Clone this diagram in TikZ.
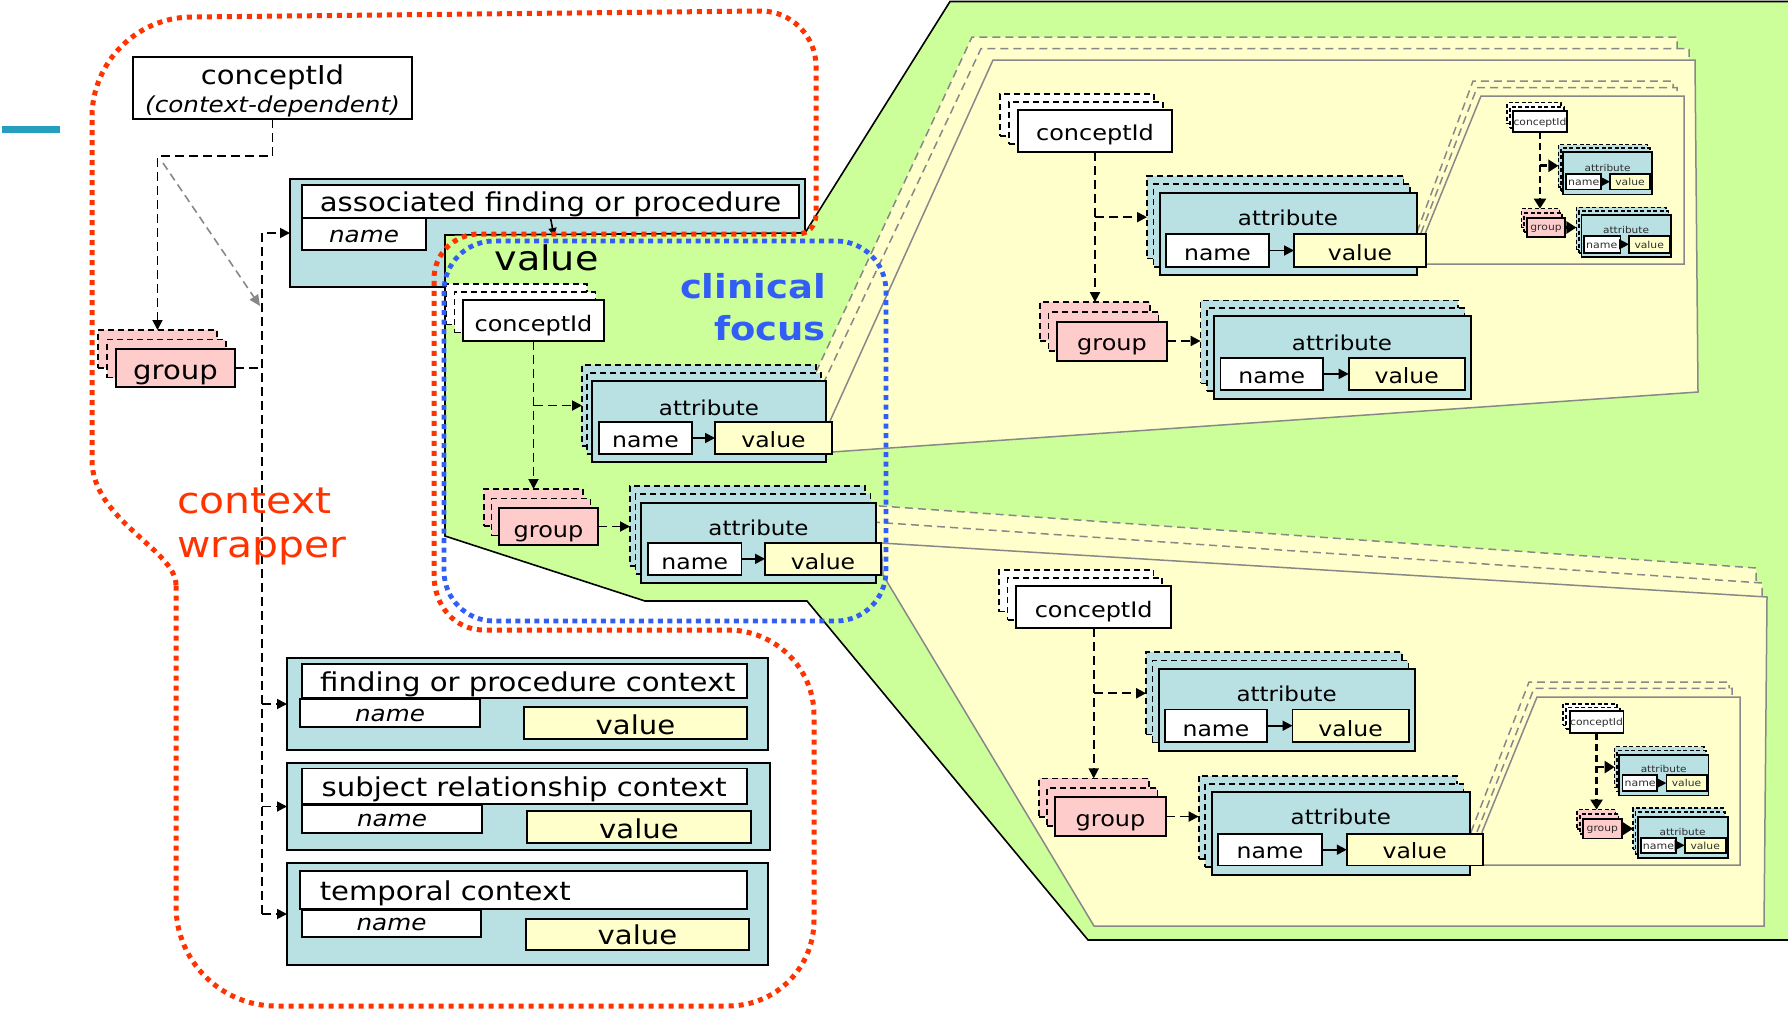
\documentclass[tikz,border=0pt]{standalone}
\usepackage{fontspec}
\setmainfont{DejaVu Sans}[FakeStretch=1.12]
\usetikzlibrary{arrows.meta,calc}
\definecolor{tealc}{RGB}{185,224,227}
\definecolor{yelc}{RGB}{255,255,204}
\definecolor{grnc}{RGB}{204,255,153}
\definecolor{pinkc}{RGB}{255,204,204}
\definecolor{redc}{RGB}{255,51,0}
\definecolor{bluec}{RGB}{51,94,245}
\definecolor{barc}{RGB}{36,160,190}
\definecolor{panelc}{RGB}{136,136,136}
\definecolor{smalltxt}{RGB}{45,45,45}
\newcommand\myfs[1]{\fontsize{#1pt}{#1pt}\selectfont}
\newcommand\mybox[6][]{\node[inner sep=0pt, outer sep=0pt, anchor=north west, minimum width={((#5)-(#3))*1pt}, minimum height={((#6)-(#4))*1pt}, #1] (#2) at ({#3},{#4}) {};}
\newcommand\mytext[5][]{\node[tx, #1] (#2) at ({#3},{#4}) {#5};}
\newcommand\mystack[9]{%
 \mybox[fill=#8, lay#9]{#1-b}{#2-2*(#6)}{#3-2*(#7)}{#4-2*(#6)}{#5-2*(#7)}%
 \mybox[fill=#8, lay#9]{#1-m}{#2-(#6)}{#3-(#7)}{#4-(#6)}{#5-(#7)}%
 \mybox[fill=#8, fr#9]{#1}{#2}{#3}{#4}{#5}}
\tikzset{
 frL/.style={draw=black, line width=2pt},
 frM/.style={draw=black, line width=1.6pt},
 layL/.style={draw=black, line width=1.6pt, dash pattern=on 6pt off 4pt},
 frS/.style={draw=black, line width=1.8pt},
 layS/.style={draw=black, line width=1.7pt, dash pattern=on 4pt off 2.5pt},
 connN/.style={draw=black, line width=1.8pt, dash pattern=on 9pt off 5pt},
 conn/.style={connN, -{Triangle[length=10pt,width=10pt]}},
 connS/.style={draw=black, line width=2.8pt, dash pattern=on 7pt off 4pt, -{Triangle[length=10pt,width=12pt]}},
 nv/.style={draw=black, line width=1.8pt, -{Triangle[length=10pt,width=10pt]}},
 nvS/.style={draw=black, line width=1.6pt, -{Triangle[length=10pt,width=10pt]}},
 grayarr/.style={draw=panelc, line width=1.6pt, dash pattern=on 8pt off 5pt, -{Triangle[length=11pt,width=10pt]}},
 panel/.style={fill=yelc, draw=panelc, line width=1.5pt},
 panelL/.style={fill=yelc, draw=panelc, line width=1.5pt, dash pattern=on 8pt off 5pt},
 redot/.style={draw=redc, line width=5pt, dash pattern=on 5pt off 5pt},
 bluedot/.style={draw=bluec, line width=4.8pt, dash pattern=on 5pt off 4.5pt},
 tx/.style={inner sep=0pt, anchor=base},
 sm/.style={text=smalltxt},
}
\begin{document}
\begin{tikzpicture}[x=1pt,y=-1pt]
\useasboundingbox (0,0) rectangle (1788,1009);
% teal bar
\fill[barc] (2,126) rectangle (60,133);
% associated finding box
\mybox[fill=tealc, frL]{assoc}{290}{179}{805}{287}
\mybox[fill=white, frM]{assoctitle}{302}{185}{799}{218}
\mybox[fill=white, frM]{assocname}{302}{218}{426}{250}
\mytext[font={\myfs{26}}]{assoct}{550.5}{211}{associated finding or procedure}
\mytext[font={\myfs{22}\itshape}]{assocn}{364}{242}{name}
% green value region
\draw[fill=grnc, draw=black, line width=1.6pt] (445,235) -- (805,233) -- (950,1.5) -- (1792,1.5) -- (1792,940) -- (1088,940) -- (807,601) -- (645,601) -- (445,536) -- cycle;
% upper level-2 panel
\draw[panelL] (816,372) -- (972,37) -- (1677,37) -- (1677,370) -- (822,420) -- cycle;
\draw[panelL] (823,384) -- (981,48.6) -- (1689,48.6) -- (1689,380) -- (825,430) -- cycle;
\draw[panel] (830,421) -- (993,60) -- (1695,60) -- (1698,392) -- (832,452) -- cycle;
% lower level-2 panel
\draw[panelL] (866,505) -- (1756,568) -- (1756,890) -- (1100,890) -- (905,590) -- (872,565) -- cycle;
\draw[panelL] (872,522) -- (1762,583) -- (1762,900) -- (1100,900) -- (905,592) -- (876,570) -- cycle;
\draw[panel] (881,543) -- (1767,597) -- (1764,926) -- (1094,926) -- (883,575) -- cycle;
% level-3 panels
\draw[panelL] (1417,232) -- (1473,81) -- (1673,81) -- (1673,250) -- (1420,258) -- cycle;
\draw[panelL] (1421,233) -- (1477,87.6) -- (1677,87.6) -- (1677,250) -- (1423,258) -- cycle;
\draw[panel] (1425,234) -- (1481,96) -- (1684,96) -- (1684,264) -- (1426,264) -- cycle;
\draw[panelL] (1471,832) -- (1529,682) -- (1729,682) -- (1729,850) -- (1478,858) -- cycle;
\draw[panelL] (1477,832) -- (1534,688.4) -- (1732,688.4) -- (1732,850) -- (1480,858) -- cycle;
\draw[panel] (1482,832) -- (1537,697) -- (1740,697) -- (1740,865) -- (1483,865) -- cycle;
% ---------- level 1 (clinical focus) ----------
\mystack{c1}{463}{300}{604}{340.6}{8.5}{8}{white}{L}
\mytext[font={\myfs{21.4}}]{c1t}{533.5}{331}{conceptId}
\mystack{g1}{499}{508}{598}{545}{7.5}{9.5}{pinkc}{L}
\mytext[font={\myfs{21.4}}]{g1t}{548.5}{537.7}{group}
\mystack{a1}{592}{381}{826}{462}{5}{8}{tealc}{L}
\mytext[font={\myfs{20.5}}]{a1t}{709}{415}{attribute}
\mybox[fill=white, frM]{a1n}{599}{422}{692}{454}
\mybox[fill=yelc, frM]{a1v}{715}{422}{832}{454}
\mytext[font={\myfs{21}}]{a1nt}{645.5}{447.7}{name}
\mytext[font={\myfs{21}}]{a1vt}{773.5}{447.7}{value}
\draw[nv] (a1n.east) -- (a1v.west);
\mystack{a2}{641}{502.5}{876}{582.5}{5.5}{8.3}{tealc}{L}
\mytext[font={\myfs{20.5}}]{a2t}{758.5}{535}{attribute}
\mybox[fill=white, frM]{a2n}{648}{542.7}{741.6}{575}
\mybox[fill=yelc, frM]{a2v}{765}{542.7}{881}{575}
\mytext[font={\myfs{21}}]{a2nt}{694.8}{569}{name}
\mytext[font={\myfs{21}}]{a2vt}{823}{569}{value}
\draw[nv] (a2n.east) -- (a2v.west);
\draw[conn] (c1.south) -- (c1.south |- g1-b.north);
\draw[conn] (c1.south |- a1-b.west) -- (a1-b.west);
\draw[conn] (g1.east) -- (g1.east -| a2-b.west);
% ---------- level 2 upper ----------
\mystack{c2}{1018}{110}{1172}{152}{9}{8}{white}{L}
\mytext[font={\myfs{21.4}}]{c2t}{1095}{140.8}{conceptId}
\mystack{g2}{1057}{321.5}{1167}{360.5}{8.5}{9.7}{pinkc}{L}
\mytext[font={\myfs{21.4}}]{g2t}{1112}{350}{group}
\mystack{a3}{1160}{192.5}{1416.5}{275}{6.5}{8.3}{tealc}{L}
\mytext[font={\myfs{20.5}}]{a3t}{1288}{225.8}{attribute}
\mybox[fill=white, frM]{a3n}{1166}{234}{1269}{267}
\mybox[fill=yelc, frM]{a3v}{1294}{234}{1426}{267}
\mytext[font={\myfs{21}}]{a3nt}{1217.5}{260}{name}
\mytext[font={\myfs{21}}]{a3vt}{1360}{260}{value}
\draw[nv] (a3n.east) -- (a3v.west);
\mystack{a4}{1213.6}{315.7}{1471}{398.8}{6.5}{7.7}{tealc}{L}
\mytext[font={\myfs{20.5}}]{a4t}{1342}{350}{attribute}
\mybox[fill=white, frM]{a4n}{1220.5}{357.8}{1323}{390}
\mybox[fill=yelc, frM]{a4v}{1348.7}{357.8}{1464.7}{390}
\mytext[font={\myfs{21}}]{a4nt}{1271.8}{383.9}{name}
\mytext[font={\myfs{21}}]{a4vt}{1406.7}{383.9}{value}
\draw[nv] (a4n.east) -- (a4v.west);
\draw[conn] (c2.south) -- (c2.south |- g2-b.north);
\draw[conn] (c2.south |- a3-b.west) -- (a3-b.west);
\draw[conn] (g2.east) -- (g2.east -| a4-b.west);
% ---------- level 2 lower ----------
\mystack{c3}{1016.4}{586.2}{1171}{628}{8.8}{8.2}{white}{L}
\mytext[font={\myfs{21.4}}]{c3t}{1093.7}{617.6}{conceptId}
\mystack{g3}{1055.4}{797.4}{1165.6}{835.7}{8.2}{9.5}{pinkc}{L}
\mytext[font={\myfs{21.4}}]{g3t}{1110.5}{826}{group}
\mystack{a5}{1158.7}{668.5}{1414.6}{750.8}{6.3}{8.2}{tealc}{L}
\mytext[font={\myfs{20.5}}]{a5t}{1286.6}{701.8}{attribute}
\mybox[fill=white, frM]{a5n}{1165}{709.4}{1267}{742}
\mybox[fill=yelc, frM]{a5v}{1292.5}{709.4}{1408.8}{742}
\mytext[font={\myfs{21}}]{a5nt}{1216}{736}{name}
\mytext[font={\myfs{21}}]{a5vt}{1350.6}{736}{value}
\draw[nv] (a5n.east) -- (a5v.west);
\mystack{a6}{1211.7}{791.7}{1470}{874.7}{6.5}{8}{tealc}{L}
\mytext[font={\myfs{20.5}}]{a6t}{1340.8}{824}{attribute}
\mybox[fill=white, frM]{a6n}{1218}{833.8}{1322}{865.6}
\mybox[fill=yelc, frM]{a6v}{1346.8}{833.8}{1482.7}{865.6}
\mytext[font={\myfs{21}}]{a6nt}{1270}{858.7}{name}
\mytext[font={\myfs{21}}]{a6vt}{1414.7}{858.7}{value}
\draw[nv] (a6n.east) -- (a6v.west);
\draw[conn] (c3.south) -- (c3.south |- g3-b.north);
\draw[conn] (c3.south |- a5-b.west) -- (a5-b.west);
\draw[conn] (g3.east) -- (g3.east -| a6-b.west);
% ---------- level 3 upper ----------
\mystack{c4}{1513}{111}{1567}{132}{3}{4.2}{white}{S}
\mytext[font={\myfs{9.6}}, sm]{c4t}{1540}{125.5}{conceptId}
\mystack{g4}{1527}{218}{1565}{237}{2.7}{4.7}{pinkc}{S}
\mytext[font={\myfs{9.6}}, sm]{g4t}{1546}{230.5}{group}
\mystack{a7}{1563}{152}{1652}{194.4}{2.3}{3.7}{tealc}{S}
\mytext[font={\myfs{9.4}}, sm]{a7t}{1607.5}{171.5}{attribute}
\mybox[fill=white, frS]{a7n}{1566}{174}{1601}{189.4}
\mybox[fill=yelc, frS]{a7v}{1610}{174}{1650}{189.4}
\mytext[font={\myfs{9.8}}, sm, anchor=base west]{a7nt}{1568}{185.5}{name}
\mytext[font={\myfs{9.6}}, sm]{a7vt}{1630}{185.5}{value}
\draw[nvS] (a7n.east) -- (a7v.west);
\mystack{a8}{1581.4}{215}{1671}{257}{2.5}{3.8}{tealc}{S}
\mytext[font={\myfs{9.4}}, sm]{a8t}{1626}{233.5}{attribute}
\mybox[fill=white, frS]{a8n}{1584}{236}{1620.5}{252.6}
\mybox[fill=yelc, frS]{a8v}{1629}{236}{1669.4}{252.6}
\mytext[font={\myfs{9.8}}, sm, anchor=base west]{a8nt}{1586}{248.2}{name}
\mytext[font={\myfs{9.6}}, sm]{a8vt}{1649.2}{248.2}{value}
\draw[nvS] (a8n.east) -- (a8v.west);
\draw[connS] (c4.south) -- (c4.south |- g4-b.north);
\draw[connS] (c4.south |- a7-b.west) -- (a7-b.west);
\draw[connS] (g4.east) -- (g4.east -| a8-b.west);
% ---------- level 3 lower ----------
\mystack{c5}{1569.6}{711.3}{1623.5}{733}{3.3}{3.8}{white}{S}
\mytext[font={\myfs{9.6}}, sm]{c5t}{1596.5}{725.7}{conceptId}
\mystack{g5}{1583}{819}{1621.6}{838.4}{3}{4.7}{pinkc}{S}
\mytext[font={\myfs{9.6}}, sm]{g5t}{1602.3}{831.5}{group}
\mystack{a9}{1619}{754.6}{1708.5}{795.5}{2.2}{4}{tealc}{S}
\mytext[font={\myfs{9.4}}, sm]{a9t}{1663.7}{772.6}{attribute}
\mybox[fill=white, frS]{a9n}{1622.4}{775.2}{1657}{791}
\mybox[fill=yelc, frS]{a9v}{1666.4}{775.2}{1706.6}{791}
\mytext[font={\myfs{9.8}}, sm, anchor=base west]{a9nt}{1624.4}{786.9}{name}
\mytext[font={\myfs{9.6}}, sm]{a9vt}{1686.5}{786.9}{value}
\draw[nvS] (a9n.east) -- (a9v.west);
\mystack{a10}{1637.7}{816.6}{1727.6}{858}{2.3}{4.3}{tealc}{S}
\mytext[font={\myfs{9.4}}, sm]{a10t}{1682.5}{835}{attribute}
\mybox[fill=white, frS]{a10n}{1640.7}{837.6}{1676}{853}
\mybox[fill=yelc, frS]{a10v}{1684.7}{837.6}{1725.7}{853}
\mytext[font={\myfs{9.8}}, sm, anchor=base west]{a10nt}{1642.7}{849.1}{name}
\mytext[font={\myfs{9.6}}, sm]{a10vt}{1705.2}{849.1}{value}
\draw[nvS] (a10n.east) -- (a10v.west);
\draw[connS] (c5.south) -- (c5.south |- g5-b.north);
\draw[connS] (c5.south |- a9-b.west) -- (a9-b.west);
\draw[connS] (g5.east) -- (g5.east -| a10-b.west);
% ---------- left: context wrapper ----------
\mybox[fill=white, frL]{cc}{133}{57}{412}{119}
\mytext[font={\myfs{26}}]{cct1}{272.5}{84}{conceptId}
\mytext[font={\myfs{22}\itshape}]{cct2}{272.5}{112}{(context-dependent)}
\mystack{g0}{116}{349}{235}{387}{9}{9.5}{pinkc}{L}
\mytext[font={\myfs{26}}]{g0t}{175.5}{379.5}{group}
% context boxes
\mybox[fill=tealc, frL]{ctx1}{287}{658}{768}{750}
\mybox[fill=white, frM]{ctx1t}{302}{664}{747}{698}
\mybox[fill=white, frM]{ctx1n}{300}{699}{480}{727}
\mybox[fill=yelc, frM]{ctx1v}{524}{707}{747}{739}
\mytext[font={\myfs{26}}, anchor=base west]{ctx1tt}{320}{691.4}{finding or procedure context}
\mytext[font={\myfs{22}\itshape}]{ctx1nt}{390}{721}{name}
\mytext[font={\myfs{26}}]{ctx1vt}{635.5}{734.3}{value}
\mybox[fill=tealc, frL]{ctx2}{287}{763}{769.5}{850}
\mybox[fill=white, frM]{ctx2t}{302}{768.6}{747}{804}
\mybox[fill=white, frM]{ctx2n}{302}{805}{482}{833}
\mybox[fill=yelc, frM]{ctx2v}{527}{811}{751}{843}
\mytext[font={\myfs{26}}, anchor=base west]{ctx2tt}{321.5}{796.3}{subject relationship context}
\mytext[font={\myfs{22}\itshape}]{ctx2nt}{392}{826}{name}
\mytext[font={\myfs{26}}]{ctx2vt}{639}{838.4}{value}
\mybox[fill=tealc, frL]{ctx3}{287}{863}{768}{965}
\mybox[fill=white, frM]{ctx3t}{300}{871}{747}{909}
\mybox[fill=white, frM]{ctx3n}{302}{910}{481}{937}
\mybox[fill=yelc, frM]{ctx3v}{526}{919}{749}{950}
\mytext[font={\myfs{26}}, anchor=base west]{ctx3tt}{319.6}{900.8}{temporal context}
\mytext[font={\myfs{22}\itshape}]{ctx3nt}{391.5}{930}{name}
\mytext[font={\myfs{26}}]{ctx3vt}{637.5}{944.8}{value}
% left connectors
\coordinate (vt) at (262,233);
\coordinate (vb) at (262,914);
\coordinate (gs) at (163,163);
\coordinate (ge) at (260,306);
\coordinate (valtop) at (554,236);
\draw[conn] (cc.south) -- ++(0,37) -| (g0-b.north);
\draw[grayarr] (gs) -- (ge);
\draw[connN] (g0.east) -- (g0.east -| vt);
\draw[conn] (vb) -- (vt) -- (assoc.west);
\draw[conn] (ctx1.west -| vt) -- (ctx1.west);
\draw[conn] (ctx2.west -| vt) -- (ctx2.west);
\draw[conn] (ctx3.west -| vt) -- (ctx3.west);
\draw[draw=black, line width=1.6pt, -{Triangle[length=8pt,width=8pt]}] (assoctitle.south) -- (valtop);
% labels
\mytext[font={\myfs{34}}]{valuelbl}{546.5}{270}{value}
\mytext[font={\myfs{33}\bfseries}, text=bluec, anchor=base east]{cf1}{826}{298.5}{clinical}
\mytext[font={\myfs{33}\bfseries}, text=bluec, anchor=base east]{cf2}{826}{340.6}{focus}
\mytext[font={\myfs{36.5}}, text=redc, anchor=base west]{cw1}{177}{513}{context}
\mytext[font={\myfs{36.5}}, text=redc, anchor=base west]{cw2}{177}{557}{wrapper}
% dotted outlines
\draw[bluedot, rounded corners=50] (444,241) rectangle (886,621);
\draw[redot] (176,585) .. controls (176,550) and (92,520) .. (92,460) -- (92,117)
  .. controls (92,62) and (137,17) .. (192,17) -- (761,11)
  .. controls (791,11) and (816,36) .. (816,66) -- (816,214)
  .. controls (816,226) and (808,234) .. (798,234) -- (479,234)
  .. controls (454,234) and (434,254) .. (434,279) -- (434,575)
  .. controls (434,605) and (454,630) .. (484,630) -- (728,630)
  .. controls (775,630) and (814,668) .. (814,715) -- (814,920)
  .. controls (814,968) and (776,1006) .. (728,1006) -- (276,1006)
  .. controls (221,1006) and (176,961) .. (176,906) -- cycle;
\end{tikzpicture}
\end{document}
